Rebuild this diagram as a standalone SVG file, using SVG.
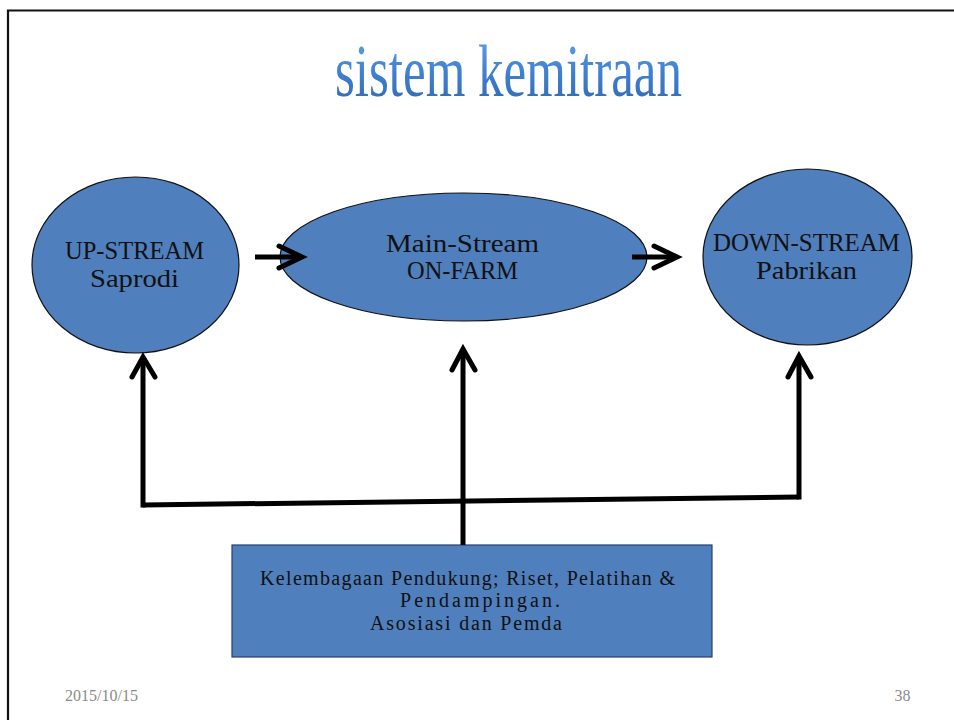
<svg xmlns="http://www.w3.org/2000/svg" width="954" height="720" viewBox="0 0 954 720">
  <defs>
    <linearGradient id="titleFill" x1="0" y1="0" x2="0" y2="1">
      <stop offset="0" stop-color="#6aa6e6"/>
      <stop offset="0.5" stop-color="#3f82d2"/>
      <stop offset="1" stop-color="#2c66b0"/>
    </linearGradient>
  </defs>
  <style>
    .node { fill: #4f7fbd; stroke: #111; stroke-width: 1.2; }
    .box { fill: #4f7fbd; stroke: #24406a; stroke-width: 1.2; }
    .serif { font-family: "Liberation Serif", "DejaVu Serif", serif; }
    .title { font-size: 74px; fill: url(#titleFill); }
    .label { font-size: 25px; fill: #111; text-anchor: middle; }
    .small { font-size: 20px; fill: #111; text-anchor: middle; }
    .foot { font-size: 16px; fill: #8a8a8a; }
    .wire { fill: none; stroke: #000; stroke-width: 5; stroke-linejoin: miter; }
    .head { fill: none; stroke: #000; stroke-width: 5; stroke-linecap: round; stroke-linejoin: miter; }
  </style>

  <rect width="954" height="720" fill="#fff"/>
  <!-- slide frame -->
  <path d="M8,720 V10.5 H954" fill="none" stroke="#111" stroke-width="2.2"/>

  <!-- title -->
  <text class="serif title" x="335" y="96" textLength="347" lengthAdjust="spacingAndGlyphs">sistem kemitraan</text>

  <g id="upstream">
    <ellipse class="node" cx="135.5" cy="265" rx="103.5" ry="88"/>
    <text class="serif label" x="134.5" y="259" textLength="139" lengthAdjust="spacingAndGlyphs">UP-STREAM</text>
    <text class="serif label" x="134.5" y="287" textLength="89" lengthAdjust="spacingAndGlyphs">Saprodi</text>
  </g>

  <g id="mainstream">
    <ellipse class="node" cx="463.5" cy="257" rx="183.5" ry="64"/>
    <text class="serif label" x="462.5" y="252" textLength="153" lengthAdjust="spacingAndGlyphs">Main-Stream</text>
    <text class="serif label" x="462.5" y="279" textLength="111" lengthAdjust="spacingAndGlyphs">ON-FARM</text>
  </g>

  <g id="downstream">
    <ellipse class="node" cx="807.5" cy="257" rx="104.5" ry="88"/>
    <text class="serif label" x="806.5" y="251" textLength="187" lengthAdjust="spacingAndGlyphs">DOWN-STREAM</text>
    <text class="serif label" x="806.5" y="279" textLength="101" lengthAdjust="spacingAndGlyphs">Pabrikan</text>
  </g>

  <g id="support">
    <rect class="box" x="232" y="545" width="480" height="112"/>
    <text class="serif small" x="467.5" y="585" textLength="415" lengthAdjust="spacing">Kelembagaan Pendukung; Riset, Pelatihan &amp;</text>
    <text class="serif small" x="480" y="607" textLength="160" lengthAdjust="spacing">Pendampingan.</text>
    <text class="serif small" x="466" y="630" textLength="192" lengthAdjust="spacing">Asosiasi dan Pemda</text>
  </g>

  <g id="connectors">
    <!-- flow between the stream stages -->
    <path class="wire" d="M255,257 H300"/>
    <path class="head" d="M279,246 L302,257 L279,268"/>
    <path class="wire" d="M632,257 H676"/>
    <path class="head" d="M654,246 L677,257 L654,268"/>

    <!-- support feeding into each stage -->
    <path class="wire" d="M463,545 V351"/>
    <path class="head" d="M452,370 L463,349 L475,370"/>
    <path class="wire" d="M143,505 L799,497"/>
    <path class="wire" d="M143,507.5 V359"/>
    <path class="head" d="M132,377 L143,357 L155,377"/>
    <path class="wire" d="M799,499.5 V358"/>
    <path class="head" d="M788,377 L799,356 L811,377"/>
  </g>

  <!-- footer -->
  <text class="serif foot" x="65" y="701">2015/10/15</text>
  <text class="serif foot" x="902.5" y="701" text-anchor="middle">38</text>
</svg>
